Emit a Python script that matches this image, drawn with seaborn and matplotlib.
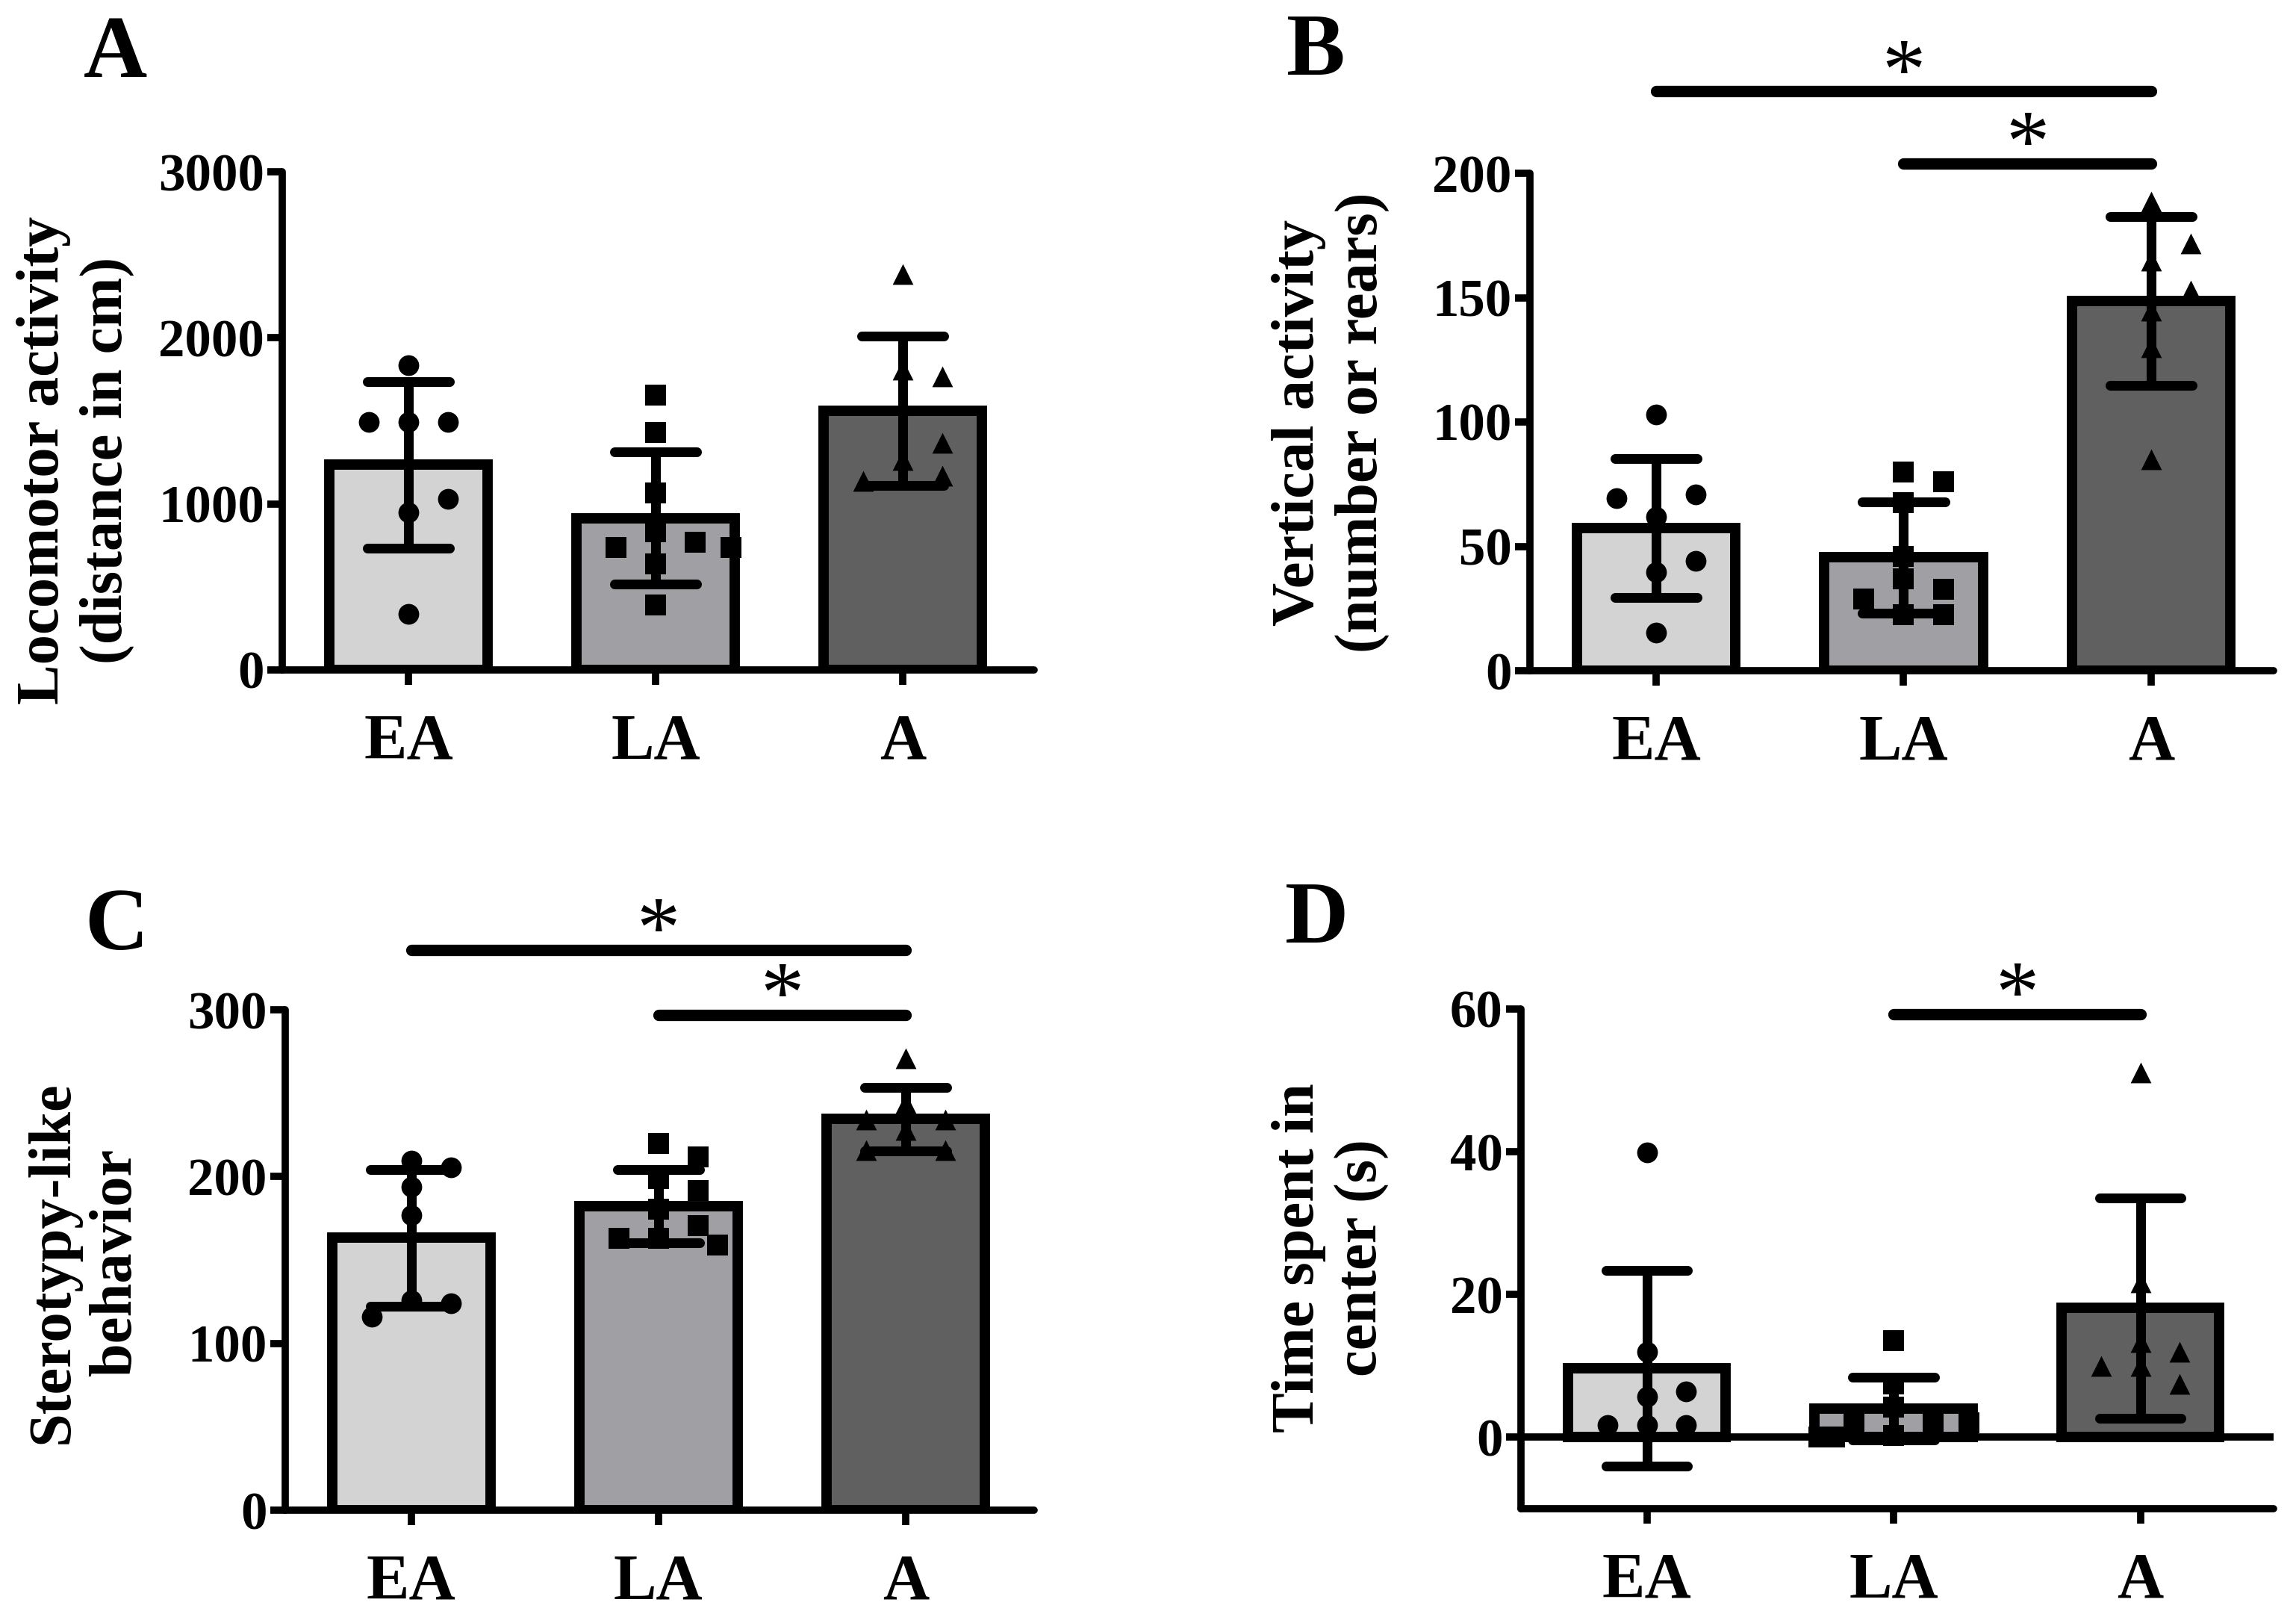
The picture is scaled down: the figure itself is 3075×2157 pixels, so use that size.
import numpy as np
import pandas as pd
import matplotlib
matplotlib.use("Agg")
import matplotlib.pyplot as plt
import seaborn as sns

# ---------------- data ----------------
groups = ["EA", "LA", "A"]
bar_colors = ["#d3d3d3", "#a0a0a4", "#606060"]
group_markers = ["o", "s", "^"]

# A: Locomotor activity (distance in cm)
loco_mean = [1235, 915, 1560]
loco_sd = [500, 398, 450]
loco_EA = [1837, 1492, 1492, 1492, 948, 1031, 338]
loco_LA = [1655, 1431, 1068, 831, 769, 738, 738, 637, 391]
loco_A = [2385, 1806, 1769, 1262, 1369, 1169, 1139]

# B: Vertical activity (number of rears)
vert_mean = [57.4, 45.5, 148.7]
vert_sd = [28.0, 22.5, 34.0]
vert_EA = [103, 62, 70.8, 69.3, 39.6, 44, 15.4]
vert_LA = [80, 75.9, 67.7, 46, 36.9, 32.8, 28.7, 22.6, 22.6]
vert_A = [188.7, 165, 171.7, 144.6, 152.8, 130, 85]

# C: Stereotypy-like behavior
ster_mean = [163.4, 182.4, 234.5]
ster_sd = [41.0, 22.0, 19.0]
ster_EA = [209.5, 205.5, 194, 176.8, 126, 124, 116]
ster_LA = [219.8, 211.7, 198.6, 191.8, 180.5, 170.6, 162.8, 162.8, 159]
ster_A = [271, 244, 234, 234, 228, 216, 216]

# D: Time spent in center (s)
cent_mean = [9.7, 4.0, 18.1]
cent_sd = [13.7, 4.4, 15.4]
cent_EA = [39.9, 12, 5.7, 6.4, 1.7, 1.7, 1.7]
cent_LA = [13.5, 7.5, 4.2, 2.0, 2.0, 2.0, 0.3, 0.0, 0.0]
cent_A = [51.1, 21.7, 13.3, 12, 10, 10, 7.5]

# significance bars: (group from, group to, height)
sig_B = [(0, 2, 233), (1, 2, 204)]
sig_C = [(0, 2, 336), (1, 2, 297)]
sig_D = [(1, 2, 59.3)]

# ---------------- style ----------------
sns.set_style("ticks")
plt.rcParams["font.family"] = ["Liberation Serif", "DejaVu Serif"]
plt.rcParams["font.weight"] = "bold"
for key in ("text.color", "axes.labelcolor", "xtick.color", "ytick.color",
            "axes.edgecolor"):
    plt.rcParams[key] = "black"

W, H = 3075, 2157
fig = plt.figure(figsize=(W / 100, H / 100), dpi=100)


def rect(l, r, t, b):
    return [l / W, 1 - b / H, (r - l) / W, (b - t) / H]


panels = [
    dict(letter="A", pos=rect(378, 1385, 230, 897), xlim=(-0.51, 2.53),
         ylim=(0, 3000), ticks=[0, 1000, 2000, 3000],
         label="Locomotor activity\n(distance in cm)", label_xy=(101, 616),
         letter_xy=(112, 103), mean=loco_mean, sd=loco_sd,
         pts=[loco_EA, loco_LA, loco_A], sig=[], zero=False),
    dict(letter="B", pos=rect(2049, 3045, 232, 898), xlim=(-0.51, 2.495),
         ylim=(0, 200), ticks=[0, 50, 100, 150, 200],
         label="Vertical activity\n(number or rears)", label_xy=(1782, 566),
         letter_xy=(1722, 100), mean=vert_mean, sd=vert_sd,
         pts=[vert_EA, vert_LA, vert_A], sig=sig_B, zero=False),
    dict(letter="C", pos=rect(382, 1385, 1352, 2022), xlim=(-0.51, 2.52),
         ylim=(0, 300), ticks=[0, 100, 200, 300],
         label="Sterotypy-like\nbehavior", label_xy=(113, 1690),
         letter_xy=(113, 1271), mean=ster_mean, sd=ster_sd,
         pts=[ster_EA, ster_LA, ster_A], sig=sig_C, zero=False),
    dict(letter="D", pos=rect(2037, 3045, 1351, 2020), xlim=(-0.51, 2.54),
         ylim=(-10, 60), ticks=[0, 20, 40, 60],
         label="Time spent in\ncenter (s)", label_xy=(1782, 1684),
         letter_xy=(1721, 1262), mean=cent_mean, sd=cent_sd,
         pts=[cent_EA, cent_LA, cent_A], sig=sig_D, zero=True),
]

LW_SPINE = 7
LW_BAR = 10
LW_ERR = 9.4
LW_SIG = 11
MS = 20  # marker size in points
D_OFF = 0.16
THR = 30  # px


def swarm_x(ax, xc, vals):
    placed, xs = [], []
    cands = [0, D_OFF, -D_OFF, D_OFF / 2, -D_OFF / 2,
             1.5 * D_OFF, -1.5 * D_OFF, 1.9 * D_OFF, -1.9 * D_OFF]
    for v in vals:
        for c in cands:
            p = ax.transData.transform((xc + c, v))
            if all(np.hypot(*(p - q)) >= THR for q in placed):
                break
        placed.append(p)
        xs.append(xc + c)
    return xs


for P in panels:
    ax = fig.add_axes(P["pos"])
    df = pd.DataFrame({"group": groups, "value": P["mean"]})
    sns.barplot(data=df, x="group", y="value", hue="group", palette=bar_colors,
                saturation=1, width=0.64, edgecolor="black", linewidth=LW_BAR,
                errorbar=None, legend=False, ax=ax, zorder=1)
    ax.set_xlim(*P["xlim"])
    ax.set_ylim(*P["ylim"])
    ax.set_yticks(P["ticks"])
    ax.set_xlabel("")
    ax.set_ylabel("")

    if P["zero"]:
        ax.axhline(0, color="black", lw=LW_SPINE, zorder=1.5,
                   solid_capstyle="round")

    # individual points
    for i, vals in enumerate(P["pts"]):
        xs = swarm_x(ax, i, vals)
        ax.scatter(xs, vals, marker=group_markers[i], s=MS ** 2,
                   color="black", linewidths=0, zorder=3, clip_on=False)

    # mean +/- SD error bars
    xpos = np.arange(len(groups))
    mean = np.array(P["mean"])
    sd = np.array(P["sd"])
    ax.errorbar(xpos, mean, yerr=sd, fmt="none", ecolor="black",
                elinewidth=LW_ERR, capsize=0, zorder=4)
    caps = ax.hlines(np.concatenate([mean + sd, mean - sd]),
                     np.concatenate([xpos, xpos]) - 0.166,
                     np.concatenate([xpos, xpos]) + 0.166,
                     colors="black", lw=LW_ERR, zorder=4)
    caps.set_capstyle("round")

    # significance bars
    for g1, g2, h in P["sig"]:
        ax.plot([g1, g2], [h, h], color="black", lw=LW_SIG,
                solid_capstyle="round", clip_on=False, zorder=5)
        ax.annotate("*", xy=((g1 + g2) / 2, h), xytext=(0, -7),
                    textcoords="offset points", ha="center", va="baseline",
                    fontsize=84, fontweight="normal", color="black",
                    annotation_clip=False)

    # axes styling
    sns.despine(ax=ax)
    for s in ("left", "bottom"):
        ax.spines[s].set_linewidth(LW_SPINE)
        ax.spines[s].set_capstyle("round")
        ax.spines[s].set_color("black")
    ax.tick_params(axis="both", direction="out", length=14.4, width=7,
                   color="black", labelcolor="black")
    ax.tick_params(axis="x", pad=28, labelsize=62)
    ax.tick_params(axis="y", pad=3, labelsize=51)
    for lab in ax.get_xticklabels() + ax.get_yticklabels():
        lab.set_fontweight("bold")
    ax.set_facecolor("none")

    lx, ly = P["label_xy"]
    fig.text(lx / W, 1 - ly / H, P["label"], rotation=90, ha="center",
             va="center", multialignment="center", fontsize=58,
             fontweight="bold", linespacing=1.2, color="black")
    tx, ty = P["letter_xy"]
    fig.text(tx / W, 1 - ty / H, P["letter"], ha="left", va="baseline",
             fontsize=85, fontweight="bold", color="black")

fig.savefig("out.png", dpi=100, facecolor="white")
